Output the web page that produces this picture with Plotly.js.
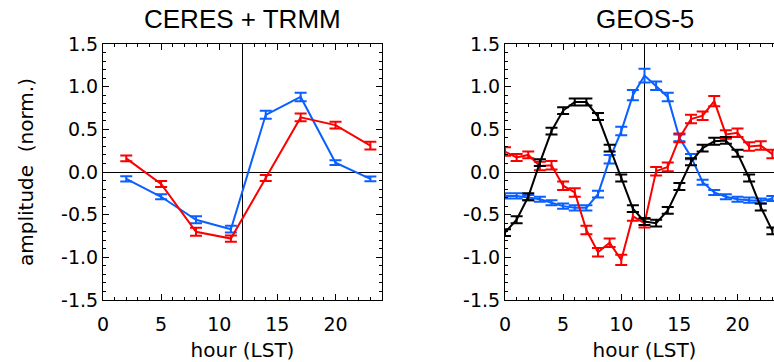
<!DOCTYPE html>
<html>
<head>
<meta charset="utf-8">
<script src="https://cdn.plot.ly/plotly-3.0.1.min.js"></script>
<style>
  html, body { margin: 0; padding: 0; background: #fff; overflow: hidden; width: 774px; height: 362px; }
  #chart { width: 800px; height: 362px; }
</style>
</head>
<body>
<div id="chart"></div>
<script>
// ---- Data ----
const panelTitles = ['CERES + TRMM', 'GEOS-5'];

// Left panel: 3-hourly observations
const obsHours = [2, 5, 8, 11, 14, 17, 20, 23];
const obsBlue = [-0.08, -0.29, -0.56, -0.67, 0.67, 0.88, 0.11, -0.08];
const obsBlueErr = [0.03, 0.03, 0.04, 0.04, 0.047, 0.05, 0.027, 0.028];
const obsRed = [0.16, -0.14, -0.70, -0.78, -0.07, 0.64, 0.55, 0.31];
const obsRedErr = [0.033, 0.035, 0.047, 0.037, 0.035, 0.045, 0.04, 0.045];

// Right panel: hourly model output
const modelHours = [0, 1, 2, 3, 4, 5, 6, 7, 8, 9, 10, 11, 12, 13, 14, 15, 16, 17, 18, 19, 20, 21, 22, 23];
const modelBlue = [-0.28, -0.28, -0.30, -0.32, -0.36, -0.40, -0.42, -0.42, -0.26, 0.15, 0.48, 0.90, 1.13, 1.01, 0.88, 0.40, 0.18, -0.12, -0.24, -0.29, -0.32, -0.33, -0.34, -0.31];
const modelBlueErr = [0.03, 0.03, 0.03, 0.03, 0.03, 0.03, 0.03, 0.03, 0.04, 0.05, 0.05, 0.06, 0.08, 0.05, 0.05, 0.04, 0.03, 0.03, 0.03, 0.03, 0.03, 0.03, 0.03, 0.03];
const modelRed = [0.24, 0.17, 0.20, 0.07, 0.08, -0.16, -0.24, -0.68, -0.94, -0.83, -1.03, -0.52, -0.60, 0.01, 0.06, 0.40, 0.62, 0.66, 0.83, 0.44, 0.46, 0.30, 0.31, 0.21];
const modelRedErr = [0.05, 0.04, 0.04, 0.05, 0.05, 0.05, 0.05, 0.05, 0.05, 0.05, 0.06, 0.05, 0.05, 0.05, 0.05, 0.05, 0.05, 0.05, 0.06, 0.05, 0.05, 0.05, 0.05, 0.05];
const modelBlack = [-0.71, -0.56, -0.29, 0.11, 0.48, 0.72, 0.82, 0.82, 0.65, 0.28, -0.07, -0.43, -0.58, -0.60, -0.45, -0.17, 0.12, 0.28, 0.36, 0.37, 0.22, -0.07, -0.41, -0.69];
const modelBlackErr = [0.04, 0.04, 0.04, 0.04, 0.04, 0.04, 0.04, 0.04, 0.04, 0.04, 0.04, 0.04, 0.04, 0.04, 0.04, 0.04, 0.04, 0.04, 0.04, 0.04, 0.04, 0.04, 0.04, 0.04];

const yTickVals = [-1.5, -1.0, -0.5, 0.0, 0.5, 1.0, 1.5];
const yTickText = ['-1.5', '-1.0', '-0.5', '0.0', '0.5', '1.0', '1.5'];
const NOON = 12;

// ---- Styling ----
const BLUE = 'rgb(10,95,255)';
const RED = 'rgb(250,0,0)';
const BLACK = 'rgb(0,0,0)';
const FONT = 'DejaVu Sans, sans-serif';
const W = 800;

function trace(x, y, err, color, xa, ya) {
  return {
    x: x, y: y, type: 'scatter', mode: 'lines',
    xaxis: xa, yaxis: ya,
    line: { color: color, width: 2 },
    error_y: { type: 'data', array: err, visible: true, color: color, thickness: 2, width: 6 },
    hoverinfo: 'skip', showlegend: false
  };
}

const data = [
  trace(obsHours, obsBlue, obsBlueErr, BLUE, 'x', 'y'),
  trace(obsHours, obsRed, obsRedErr, RED, 'x', 'y'),
  trace(modelHours, modelBlue, modelBlueErr, BLUE, 'x2', 'y2'),
  trace(modelHours, modelRed, modelRedErr, RED, 'x2', 'y2'),
  trace(modelHours, modelBlack, modelBlackErr, BLACK, 'x2', 'y2')
];

function xAxis(domain, anchor) {
  return {
    domain: domain, anchor: anchor, range: [0, 24],
    tickmode: 'linear', tick0: 0, dtick: 5,
    ticks: 'inside', ticklen: 6, tickwidth: 1, tickcolor: '#000',
    minor: { tickmode: 'linear', tick0: 0, dtick: 1, ticks: 'inside', ticklen: 3, tickwidth: 1, tickcolor: '#000', showgrid: false },
    showline: true, linecolor: '#000', linewidth: 1, mirror: 'allticks',
    showgrid: false, zeroline: false,
    ticklabelstandoff: 7,
    tickfont: { family: FONT, size: 19, color: '#000' },
    title: { text: 'hour (LST)', font: { family: FONT, size: 20, color: '#000' }, standoff: 10 }
  };
}
function yAxis(anchor, withTitle) {
  return {
    domain: [0, 1], anchor: anchor, range: [-1.5, 1.5],
    tickmode: 'array', tickvals: yTickVals, ticktext: yTickText,
    ticks: 'inside', ticklen: 6, tickwidth: 1, tickcolor: '#000',
    minor: { tickmode: 'linear', tick0: 0, dtick: 0.1, ticks: 'inside', ticklen: 3, tickwidth: 1, tickcolor: '#000', showgrid: false },
    showline: true, linecolor: '#000', linewidth: 1, mirror: 'allticks',
    showgrid: false, zeroline: true, zerolinecolor: '#000', zerolinewidth: 1,
    tickfont: { family: FONT, size: 19, color: '#000' },
    title: withTitle ? { text: 'amplitude  (norm.)', font: { family: FONT, size: 20, color: '#000' }, standoff: 22 } : { text: '' }
  };
}

const layout = {
  width: W, height: 362,
  margin: { l: 0, r: 0, t: 44, b: 62 },
  paper_bgcolor: '#fff', plot_bgcolor: '#fff',
  showlegend: false,
  xaxis: xAxis([103 / W, 382 / W], 'y'),
  yaxis: yAxis('x', true),
  xaxis2: xAxis([505 / W, 784 / W], 'y2'),
  yaxis2: yAxis('x2', false),
  shapes: [
    { type: 'line', xref: 'x', yref: 'y domain', x0: NOON, x1: NOON, y0: 0, y1: 1, line: { color: '#000', width: 1 }, layer: 'below' },
    { type: 'line', xref: 'x2', yref: 'y2 domain', x0: NOON, x1: NOON, y0: 0, y1: 1, line: { color: '#000', width: 1 }, layer: 'below' }
  ],
  annotations: [
    { text: panelTitles[0], xref: 'x domain', yref: 'paper', x: 0.5, y: 1 + 25 / 256, xanchor: 'center', yanchor: 'middle', showarrow: false, font: { family: 'Liberation Sans, sans-serif', size: 26, color: '#000' } },
    { text: panelTitles[1], xref: 'x2 domain', yref: 'paper', x: 0.5, y: 1 + 25 / 256, xanchor: 'center', yanchor: 'middle', showarrow: false, font: { family: 'Liberation Sans, sans-serif', size: 26, color: '#000' } }
  ]
};

Plotly.newPlot('chart', data, layout, { staticPlot: true, displayModeBar: false, responsive: false });
</script>
</body>
</html>
